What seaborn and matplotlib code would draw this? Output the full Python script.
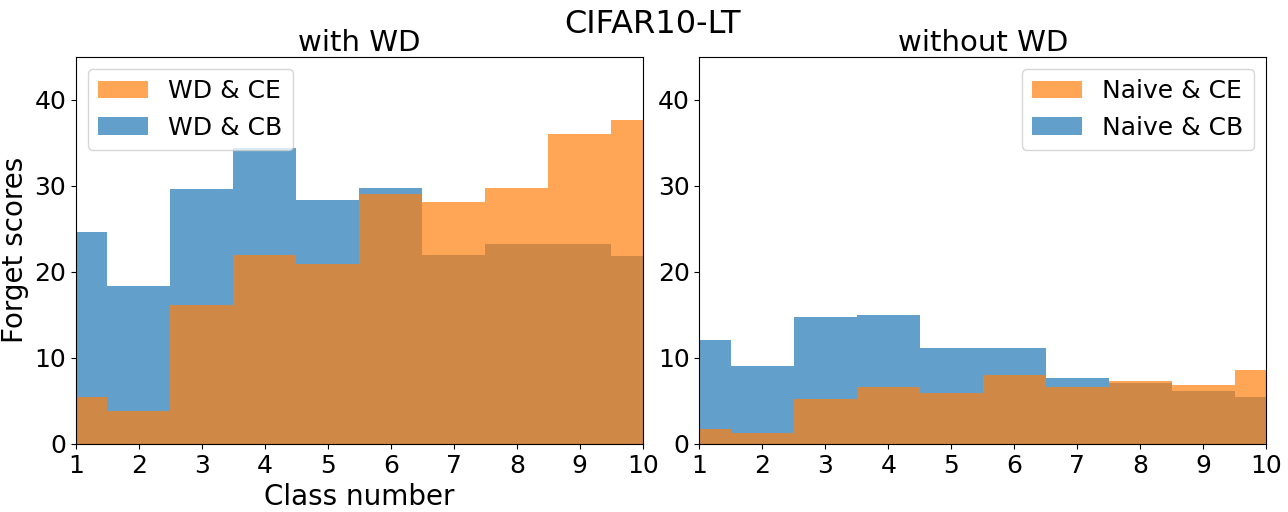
import numpy as np
import pandas as pd
import matplotlib
matplotlib.use("Agg")
import matplotlib.pyplot as plt
import seaborn as sns
from matplotlib.patches import Patch

classes = list(range(1, 11))

# forget scores per class, with weight decay
wd_ce = [5.4, 3.8, 16.2, 22.0, 20.9, 29.0, 28.1, 29.7, 36.0, 37.7]
wd_cb = [24.6, 18.4, 29.6, 34.4, 28.4, 29.8, 22.0, 23.2, 23.2, 21.8]

# forget scores per class, without weight decay
naive_ce = [1.7, 1.3, 5.2, 6.6, 5.9, 8.0, 6.6, 7.3, 6.8, 8.6]
naive_cb = [12.1, 9.0, 14.8, 15.0, 11.2, 11.1, 7.7, 7.1, 6.1, 5.5]

panels = [
    ("with WD", wd_ce, wd_cb, "WD & CE", "WD & CB", "upper left"),
    ("without WD", naive_ce, naive_cb, "Naive & CE", "Naive & CB", "upper right"),
]

orange = "#ff7f0e"
blue = "#1f77b4"

fig, axes = plt.subplots(1, 2, figsize=(12.88, 5.12), dpi=100)
fig.subplots_adjust(left=0.059, right=0.983, top=0.889, bottom=0.133, wspace=0.1)

for ax, (title, ce, cb, lab_ce, lab_cb, loc) in zip(axes, panels):
    df = pd.DataFrame({"cls": classes, "ce": ce, "cb": cb})
    # blue first, orange on top
    sns.histplot(data=df, x="cls", weights="cb", binwidth=1, binrange=(0.5, 10.5),
                 element="step", fill=True, color=blue, alpha=0.7, linewidth=0, ax=ax)
    sns.histplot(data=df, x="cls", weights="ce", binwidth=1, binrange=(0.5, 10.5),
                 element="step", fill=True, color=orange, alpha=0.7, linewidth=0, ax=ax)

    ax.set_xlim(1, 10)
    ax.set_ylim(0, 45)
    ax.set_xticks(classes)
    ax.set_yticks([0, 10, 20, 30, 40])
    ax.tick_params(axis="both", labelsize=18)
    ax.set_title(title, fontsize=21, pad=3.5)
    ax.set_xlabel("")
    ax.set_ylabel("")

    handles = [Patch(facecolor=orange, alpha=0.7), Patch(facecolor=blue, alpha=0.7)]
    ax.legend(handles, [lab_ce, lab_cb], loc=loc, fontsize=18)

axes[0].set_xlabel("Class number", fontsize=20)
axes[0].set_ylabel("Forget scores", fontsize=20)

fig.suptitle("CIFAR10-LT", fontsize=23, x=0.5066, y=0.983)

fig.savefig("out.png", dpi=100)
